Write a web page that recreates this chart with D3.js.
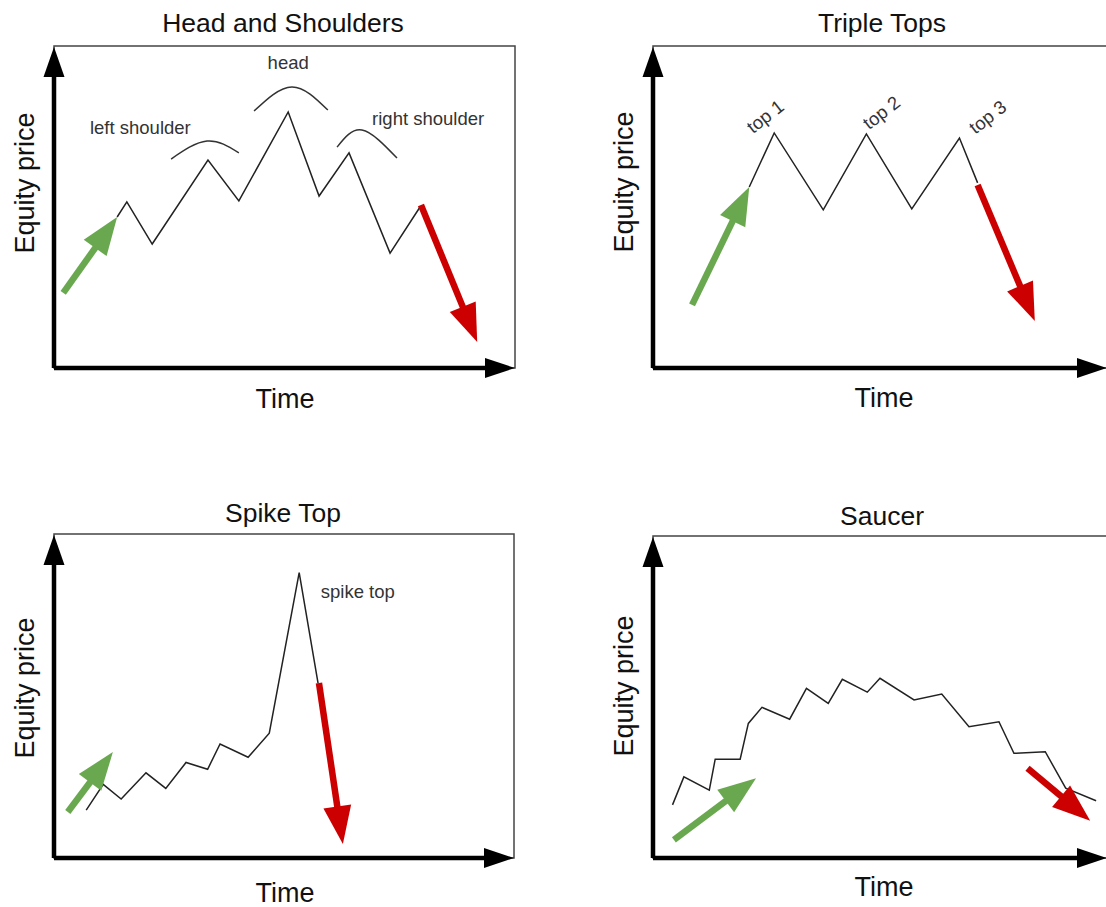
<!DOCTYPE html>
<html lang="en"><head>
<meta charset="utf-8">
<title>Reversal patterns</title>
<script src="https://cdnjs.cloudflare.com/ajax/libs/d3/7.8.5/d3.min.js"></script>
<style>
body { margin: 0; background: #fff; }
svg text { font-family: "Liberation Sans", Arial, sans-serif; }
</style>
</head>
<body>
<svg id="chart" width="1106" height="907"></svg>
<script>
// text
var titles = ["Head and Shoulders", "Triple Tops", "Spike Top", "Saucer"];
var xLabel = "Time";
var yLabel = "Equity price";

// price paths as [time, price], both in percent of the frame
var hsPrice = [[13.7,46.9],[15.8,51.6],[21.3,38.5],[33.4,64.6],[40.1,51.9],[50.8,79.5],
               [57.5,53.4],[64.0,66.8],[72.9,35.7],[79.4,50.0]];
var ttPrice = [[21.2,56.2],[26.7,73.0],[37.5,49.1],[47.0,72.7],[57.0,49.4],[67.5,71.4],[71.5,57.5]];
var stPrice = [[7.0,14.8],[10.7,22.7],[14.6,18.2],[20.0,26.3],[24.3,21.5],[28.7,29.5],
               [33.4,27.4],[36.1,35.2],[42.2,31.1],[46.8,38.5],[53.3,88.1],[57.4,54.0]];
var saPrice = [[4.3,16.5],[6.8,25.2],[12.4,21.1],[13.7,30.7],[19.2,30.7],[21.0,41.8],[24.0,46.8],
               [30.1,43.1],[33.8,52.7],[38.6,48.0],[41.7,55.5],[47.2,51.5],[50.0,55.8],[57.5,49.1],
               [63.6,50.9],[69.6,40.8],[76.2,42.3],[79.5,32.5],[86.4,33.0],[90.9,21.7],[97.6,17.8]];

// trend arrows: [from, to]
var upArrows = [[[2.0,23.3],[13.7,46.9]], [[8.6,19.6],[21.2,56.2]], [[3.0,14.2],[12.8,32.7]], [[4.6,5.6],[22.7,24.8]]];
var downArrows = [[[79.6,50.6],[91.8,8.1]], [[71.5,56.8],[84.1,14.6]], [[57.6,54.0],[62.8,4.3]], [[82.5,27.9],[96.3,11.6]]];

// head and shoulders caps
var hsCaps = [
  [[25.4,64.9],[33.2,70.5],[40.1,66.8]],
  [[43.4,79.8],[51.6,87.3],[59.4,80.1]],
  [[61.4,68.6],[66.8,73.9],[74.4,65.2]]
];
var hsNotes = [["left shoulder",7.8,72.7,"start"],["head",50.8,92.9,"middle"],["right shoulder",69.0,75.5,"start"]];
var ttNotes = [["top 1",22.0,72.6],["top 2",47.6,73.8],["top 3",71.0,72.4]];
var stNotes = [["spike top",58.0,80.2,"start"]];

var panels = [
  {L:54,  R:515,  T:46,  B:368, titleY:32,  timeY:408, eqY:183, price:hsPrice},
  {L:653, R:1107, T:46,  B:368, titleY:32,  timeY:407, eqY:182, price:ttPrice},
  {L:54,  R:514,  T:534, B:858, titleY:522, timeY:902, eqY:688, price:stPrice},
  {L:653, R:1107, T:536, B:858, titleY:525, timeY:896, eqY:686, price:saPrice}
];

var svg = d3.select("#chart");

function arrow(g, p0, p1, color, width, headLen, headHalf) {
  var dx = p1[0] - p0[0], dy = p1[1] - p0[1];
  var len = Math.sqrt(dx*dx + dy*dy);
  var ux = dx/len, uy = dy/len;
  var bx = p1[0] - ux*headLen, by = p1[1] - uy*headLen;
  g.append("line")
    .attr("x1", p0[0]).attr("y1", p0[1])
    .attr("x2", bx + ux*2).attr("y2", by + uy*2)
    .attr("stroke", color).attr("stroke-width", width);
  g.append("polygon")
    .attr("points", [[p1[0], p1[1]], [bx - uy*headHalf, by + ux*headHalf], [bx + uy*headHalf, by - ux*headHalf]].join(" "))
    .attr("fill", color);
}

panels.forEach(function(p, i) {
  var x = d3.scaleLinear().domain([0, 100]).range([p.L, p.R]);
  var y = d3.scaleLinear().domain([0, 100]).range([p.B, p.T]);
  var pt = function(d) { return [x(d[0]), y(d[1])]; };
  var g = svg.append("g");

  g.append("rect")
    .attr("x", p.L).attr("y", p.T)
    .attr("width", p.R - p.L).attr("height", p.B - p.T)
    .attr("fill", "none").attr("stroke", "#444").attr("stroke-width", 1.5);

  // axes
  arrow(g, pt([0,0]), [x(0), y(100) + 1], "#000", 4.5, 30, 10.5);
  arrow(g, pt([0,0]), pt([100,0]), "#000", 4.5, 30, 10);

  g.append("text").attr("x", p.L + 229).attr("y", p.titleY)
    .attr("text-anchor", "middle").attr("font-size", 26.5).attr("fill", "#111")
    .text(titles[i]);
  g.append("text").attr("x", p.L + 231).attr("y", p.timeY)
    .attr("text-anchor", "middle").attr("font-size", 27).attr("fill", "#111")
    .text(xLabel);
  g.append("text")
    .attr("transform", "translate(" + (p.L - 20) + "," + p.eqY + ") rotate(-90)")
    .attr("text-anchor", "middle").attr("font-size", 27).attr("fill", "#111")
    .text(yLabel);

  var line = d3.line().x(function(d) { return x(d[0]); }).y(function(d) { return y(d[1]); });
  g.append("path").attr("d", line(p.price))
    .attr("fill", "none").attr("stroke", "#222").attr("stroke-width", 1.5)
    .attr("stroke-linejoin", "miter");

  arrow(g, pt(upArrows[i][0]), pt(upArrows[i][1]), "#6aa84f", 6.5, 38, 14);
  arrow(g, pt(downArrows[i][0]), pt(downArrows[i][1]), "#cc0000", 6.5, 38, 14);

  var notes = [hsNotes, [], stNotes, []][i];
  notes.forEach(function(n) {
    g.append("text").attr("x", x(n[1])).attr("y", y(n[2]))
      .attr("text-anchor", n[3]).attr("font-size", 18.5).attr("fill", "#333")
      .text(n[0]);
  });

  if (i === 0) {
    var cap = d3.line().curve(d3.curveNatural)
      .x(function(d) { return x(d[0]); }).y(function(d) { return y(d[1]); });
    hsCaps.forEach(function(c) {
      g.append("path").attr("d", cap(c))
        .attr("fill", "none").attr("stroke", "#333").attr("stroke-width", 1.5);
    });
  }
  if (i === 1) {
    ttNotes.forEach(function(n) {
      g.append("text")
        .attr("transform", "translate(" + x(n[1]) + "," + y(n[2]) + ") rotate(-38)")
        .attr("font-size", 18.5).attr("fill", "#333")
        .text(n[0]);
    });
  }
});
</script>
</body></html>
